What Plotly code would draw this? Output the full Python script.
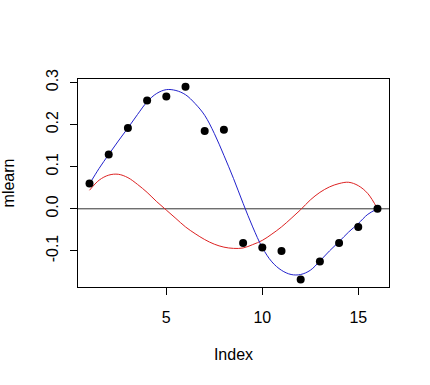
import plotly.graph_objects as go

# observed points
idx = list(range(1, 17))
mlearn = [0.060, 0.129, 0.192, 0.257, 0.267, 0.290, 0.185, 0.188,
          -0.081, -0.092, -0.100, -0.168, -0.125, -0.081, -0.043, 0.000]

# fitted curves
cx = [1, 1.5, 2, 2.5, 3, 3.5, 4, 4.5, 5, 5.5, 6, 6.5, 7, 7.5, 8, 8.5,
      9, 9.5, 10, 10.5, 11, 11.5, 12, 12.5, 13, 13.5, 14, 14.5, 15, 15.5, 16]
blue_fit = [0.059, 0.096, 0.129, 0.161, 0.192, 0.224, 0.254, 0.274, 0.283, 0.281,
            0.271, 0.250, 0.222, 0.179, 0.127, 0.072, 0.013, -0.043, -0.092, -0.126,
            -0.146, -0.156, -0.156, -0.146, -0.124, -0.100, -0.078, -0.055, -0.035,
            -0.013, 0.000]
red_fit = [0.044, 0.068, 0.080, 0.082, 0.074, 0.058, 0.039, 0.017, -0.003, -0.023,
           -0.043, -0.059, -0.073, -0.084, -0.091, -0.094, -0.093, -0.085, -0.075,
           -0.060, -0.043, -0.023, -0.002, 0.021, 0.039, 0.052, 0.060, 0.063, 0.055,
           0.036, 0.000]

xticks = [5, 10, 15]
yticks = [-0.1, 0.0, 0.1, 0.2, 0.3]
ylabels = ["-0.1", "0.0", "0.1", "0.2", "0.3"]

FONT = "Liberation Sans, Arial, sans-serif"

fig = go.Figure()
fig.add_trace(go.Scatter(x=[0.4, 16.6], y=[0, 0], mode="lines",
                         line=dict(color="#333333", width=1), hoverinfo="skip",
                         showlegend=False))
fig.add_trace(go.Scatter(x=cx, y=red_fit, mode="lines",
                         line=dict(color="#dd2222", width=1, shape="spline", smoothing=1.0),
                         showlegend=False))
fig.add_trace(go.Scatter(x=cx, y=blue_fit, mode="lines",
                         line=dict(color="#2222cc", width=1, shape="spline", smoothing=1.0),
                         showlegend=False))
fig.add_trace(go.Scatter(x=idx, y=mlearn, mode="markers",
                         marker=dict(color="black", size=8),
                         showlegend=False))

fig.update_layout(
    width=430, height=385,
    margin=dict(l=78, r=41, t=79, b=98),
    paper_bgcolor="white", plot_bgcolor="white",
    font=dict(family=FONT, size=16, color="black"),
    showlegend=False,
)
fig.update_xaxes(
    range=[0.4, 16.6], tickvals=xticks, ticktext=[str(v) for v in xticks],
    showgrid=False, zeroline=False, automargin=False,
    showline=True, linecolor="black", linewidth=1, mirror=True,
    ticks="outside", ticklen=7, tickcolor="black", tickwidth=1,
    ticklabelstandoff=9,
    title=dict(text="Index", standoff=23, font=dict(size=16)),
)
fig.update_yaxes(
    range=[-0.1857, 0.3083], tickvals=yticks, ticktext=ylabels,
    showgrid=False, zeroline=False, automargin=False,
    showline=True, linecolor="black", linewidth=1, mirror=True,
    ticks="outside", ticklen=7, tickcolor="black", tickwidth=1,
    tickangle=-90, ticklabelstandoff=6,
    title=dict(text="mlearn", standoff=28, font=dict(size=16)),
)

fig.write_html("out.html")
